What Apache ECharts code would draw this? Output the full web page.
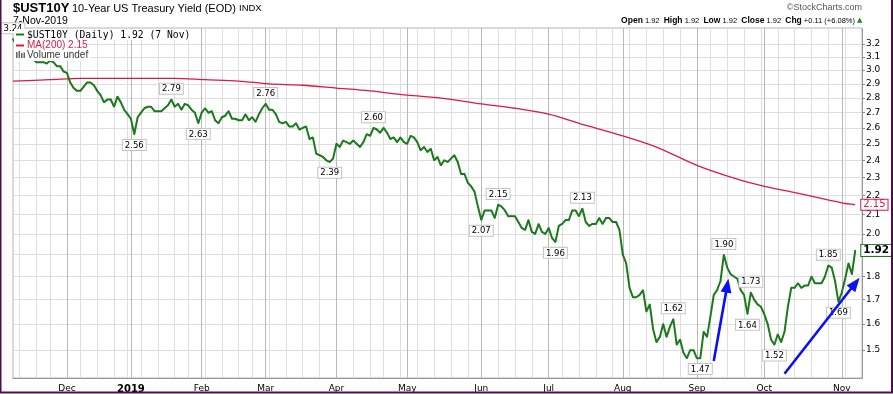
<!DOCTYPE html>
<html><head><meta charset="utf-8">
<script src="https://cdn.jsdelivr.net/npm/echarts@6/dist/echarts.min.js"></script>
<style>html,body{margin:0;padding:0;background:#fff}#c{width:893px;height:394px}</style>
</head><body><div id="c"></div>
<script>
// ---- categories (trading days) ----
const firstDay = '2018-11-08';
const lastDay = '2019-11-11';   // two blank days after the last close
const holidays = ['2018-11-22','2018-12-05','2018-12-25','2019-01-01','2019-01-21',
  '2019-02-18','2019-04-19','2019-05-27','2019-07-04','2019-09-02'];
const monthNames = ['Jan','Feb','Mar','Apr','May','Jun','Jul','Aug','Sep','Oct','Nov','Dec'];

// ---- daily closes of $UST10Y, one array per month ----
const y2018Nov = [3.24,3.19,3.19,3.14,3.12,3.11,3.08,3.06,3.06,3.06,3.05,3.07,3.06,3.03,3.03,2.99];
const y2018Dec = [2.98,2.91,2.87,2.85,2.85,2.88,2.91,2.91,2.89,2.85,2.82,2.77,2.79,2.79,2.74,2.81,2.77,2.72,2.69];
const y2019Jan = [2.66,2.56,2.67,2.70,2.73,2.74,2.74,2.71,2.71,2.71,2.73,2.75,2.79,2.74,2.76,2.72,2.76,2.75,2.72,2.70,2.63];
const y2019Feb = [2.70,2.73,2.70,2.71,2.65,2.63,2.67,2.68,2.71,2.66,2.66,2.65,2.65,2.69,2.65,2.67,2.64,2.69,2.73];
const y2019Mar = [2.76,2.72,2.72,2.69,2.64,2.63,2.64,2.61,2.61,2.63,2.59,2.60,2.61,2.53,2.54,2.44,2.43,2.42,2.40,2.39,2.41];
const y2019Apr = [2.50,2.48,2.52,2.51,2.50,2.52,2.50,2.48,2.51,2.56,2.55,2.60,2.59,2.57,2.60,2.57,2.53,2.54,2.51,2.54,2.51];
const y2019May = [2.50,2.55,2.54,2.51,2.46,2.48,2.45,2.47,2.40,2.42,2.37,2.40,2.39,2.41,2.43,2.39,2.32,2.32,2.27,2.25,2.22,2.14];
const y2019Jun = [2.07,2.12,2.12,2.12,2.08,2.15,2.14,2.12,2.09,2.09,2.09,2.06,2.03,2.02,2.07,2.01,2.00,2.05,2.01,2.00];
const y2019Jul = [2.03,1.98,1.96,2.04,2.05,2.07,2.07,2.12,2.12,2.09,2.13,2.06,2.04,2.05,2.05,2.08,2.05,2.08,2.08,2.06,2.06,2.02];
const y2019Aug = [1.90,1.86,1.75,1.71,1.71,1.72,1.74,1.65,1.68,1.58,1.53,1.55,1.60,1.55,1.59,1.62,1.52,1.54,1.49,1.47,1.50,1.50];
const y2019Sep = [1.47,1.47,1.57,1.55,1.63,1.72,1.74,1.78,1.90,1.84,1.81,1.80,1.79,1.74,1.72,1.64,1.73,1.70,1.68,1.67];
const y2019Oct = [1.64,1.60,1.54,1.52,1.56,1.53,1.57,1.67,1.75,1.75,1.77,1.75,1.76,1.76,1.80,1.77,1.77,1.77,1.80,1.85,1.84,1.78,1.69];
const y2019Nov = [1.73,1.79,1.86,1.81,1.92];

// ---- MA(200) ----
const maDates = ['2018-11-08','2018-11-26','2018-12-10','2018-12-24','2019-01-07','2019-01-22','2019-02-04',
  '2019-02-19','2019-03-04','2019-03-18','2019-04-01','2019-04-15','2019-05-01','2019-05-15','2019-06-03',
  '2019-06-17','2019-07-01','2019-07-15','2019-08-01','2019-08-15','2019-09-03','2019-09-19','2019-10-01',
  '2019-10-11','2019-11-01','2019-11-07'];
const maValues = [2.92,2.93,2.94,2.94,2.94,2.94,2.93,2.92,2.90,2.89,2.87,2.85,2.82,2.80,2.76,
  2.73,2.69,2.63,2.55,2.48,2.37,2.29,2.25,2.22,2.16,2.15];

// ---- axis ticks ----
const yTicks = [1.5,1.6,1.7,1.8,1.9,2.0,2.1,2.2,2.3,2.4,2.5,2.6,2.7,2.8,2.9,3.0,3.1,3.2];

// ---- callouts ----
const peakDates = ['2018-11-08','2019-01-18','2019-03-01','2019-04-16','2019-06-10','2019-07-16',
  '2019-08-22','2019-09-13','2019-09-25','2019-10-28'];
const troughDates = ['2019-01-03','2019-01-31','2019-03-28','2019-06-03','2019-07-03','2019-09-04',
  '2019-09-24','2019-10-04','2019-10-31'];

// ---- hand-drawn arrows [start, end] ----
const arrows = [
  [['2019-09-10', 1.46], ['2019-09-16', 1.76]],
  [['2019-10-09', 1.415], ['2019-11-07', 1.77]]
];

function ds(d){ return d.toISOString().slice(0,10); }
function tradingDays(){
  const out = [], hs = new Set(holidays);
  const d = new Date(firstDay + 'T00:00:00Z'), end = new Date(lastDay + 'T00:00:00Z');
  while (d <= end) {
    const w = d.getUTCDay(), s = ds(d);
    if (w !== 0 && w !== 6 && !hs.has(s)) out.push(s);
    d.setUTCDate(d.getUTCDate() + 1);
  }
  return out;
}
const dates = tradingDays();
const yields = [].concat(y2018Nov,y2018Dec,y2019Jan,y2019Feb,y2019Mar,y2019Apr,y2019May,
  y2019Jun,y2019Jul,y2019Aug,y2019Sep,y2019Oct,y2019Nov);

function dow(s){ return new Date(s + 'T00:00:00Z').getUTCDay(); }
function isMonthStart(i){ return i > 0 && dates[i].slice(0,7) !== dates[i-1].slice(0,7); }
function isWeekStart(i){
  if (i <= 0) return false;
  const diff = (new Date(dates[i]) - new Date(dates[i-1])) / 864e5;
  return dow(dates[i]) < dow(dates[i-1]) || diff >= 7;
}

const peakSet = new Set(peakDates), troughSet = new Set(troughDates);
const GREEN = '#1c7a1c', RED = '#d81b45';
const seriesData = yields.map((v, i) => {
  const d = dates[i];
  if (peakSet.has(d)) return {value: v, label: {show: true, position: 'top'}};
  if (troughSet.has(d)) return {value: v, label: {show: true, position: 'bottom'}};
  return v;
});
const maData = maDates.map((d, i) => [d, maValues[i]]);

const chart = echarts.init(document.getElementById('c'), null, {renderer: 'canvas'});
const AX = 'DejaVu Sans';
const LZ = 100;
chart.setOption({
  animation: false,
  backgroundColor: '#fff',
  grid: {left: 13, top: 28, width: 849, height: 353, show: true, borderColor: '#b4b4b4', borderWidth: 1},
  xAxis: [{
    type: 'category', data: dates, boundaryGap: false, position: 'bottom',
    axisLine: {show: true, lineStyle: {color: '#8c8c8c', type: 'dotted'}},
    axisTick: {show: false},
    axisLabel: {
      interval: (i) => isMonthStart(i), margin: 6, color: '#000', fontSize: 9, fontFamily: AX,
      formatter: (v) => { const m = +v.slice(5,7); return m === 1 ? '{y|' + v.slice(0,4) + '}' : monthNames[m-1]; },
      rich: {y: {fontWeight: 'bold', fontSize: 10, fontFamily: AX, color: '#000'}}
    },
    splitLine: {show: true, interval: (i) => isWeekStart(i), lineStyle: {color: '#dedede', width: 1}}
  }, {
    type: 'category', data: dates, boundaryGap: false, position: 'top',
    axisLine: {show: false}, axisTick: {show: false}, axisLabel: {show: false},
    splitLine: {show: true, interval: (i) => isMonthStart(i), lineStyle: {color: '#b8b8b8', width: 1}}
  }],
  yAxis: {
    type: 'log', logBase: 10, min: 1.40, max: 3.33, position: 'right',
    axisLine: {show: true, lineStyle: {color: '#8c8c8c', type: 'dotted'}},
    axisTick: {show: true, inside: false, length: 3, customValues: yTicks, lineStyle: {color: '#8c8c8c'}},
    axisLabel: {customValues: yTicks, formatter: (v) => (+v).toFixed(1), color: '#000', fontSize: 9,
      fontFamily: AX, margin: 4},
    splitLine: {show: true, lineStyle: {color: '#dedede', width: 1}},
    minorTick: {show: false}, minorSplitLine: {show: false}
  },
  series: [{
    name: 'MA(200)', type: 'line', data: maData, showSymbol: false, symbol: 'none', z: 2, smooth: 0.3,
    lineStyle: {color: RED, width: 1.3}, itemStyle: {color: RED},
    endLabel: {show: true, formatter: '2.15', color: RED, fontSize: 10, fontFamily: AX,
      backgroundColor: '#fff', borderColor: RED, borderWidth: 1, padding: [0, 2, 0, 2], distance: 6}
  }, {
    name: '$UST10Y', type: 'line', data: seriesData, z: 3,
    showSymbol: true, showAllSymbol: true, symbol: 'circle', symbolSize: 1.5,
    itemStyle: {color: GREEN}, lineStyle: {color: GREEN, width: 2},
    label: {show: false, formatter: (p) => (+p.value).toFixed(2), color: '#000', fontSize: 8.5,
      fontFamily: AX, backgroundColor: '#fff', borderColor: '#c4c4c4', borderWidth: 1,
      padding: [1, 2, 0, 2], distance: 5},
    endLabel: {show: true, formatter: '1.92', color: '#000', fontWeight: 'bold', fontSize: 10.5,
      fontFamily: AX, backgroundColor: '#fff', borderColor: GREEN, borderWidth: 1,
      padding: [0, 2, 0, 2], distance: 6},
    markLine: {
      silent: true, symbol: ['none', 'triangle'], symbolSize: [11, 14],
      label: {show: false},
      lineStyle: {color: '#0a10f0', width: 2.6, type: 'solid'},
      data: arrows.map(a => [{coord: a[0]}, {coord: a[1]}])
    }
  }],
  graphic: [
    {type: 'text', x: 13, y: 8, style: {text: '$UST10Y', font: 'bold 13px "Liberation Sans"', fill: '#000', verticalAlign: 'middle'}},
    {type: 'text', x: 72, y: 8.5, style: {text: '10-Year US Treasury Yield (EOD)', font: '11px "Liberation Sans"', fill: '#000', verticalAlign: 'middle'}},
    {type: 'text', x: 239, y: 8.5, style: {text: 'INDX', font: '9.5px "Liberation Sans"', fill: '#000', verticalAlign: 'middle'}},
    {type: 'text', x: 13, y: 21, style: {text: '7-Nov-2019', font: '10.5px "Liberation Sans"', fill: '#000', verticalAlign: 'middle'}},
    {type: 'text', x: 862, y: 8, style: {text: '\u00A9StockCharts.com', font: '9px "Liberation Sans"', fill: '#555', align: 'right', verticalAlign: 'middle'}},
    {type: 'text', x: 855, y: 20.5, style: {
      text: '{b|Open} {n|1.92}  {b|High} {n|1.92}  {b|Low} {n|1.92}  {b|Close} {n|1.92}  {b|Chg} {n|+0.11 (+6.08%)}',
      font: '7.5px "Liberation Sans"', fill: '#000', align: 'right', verticalAlign: 'middle',
      rich: {b: {fontWeight: 'bold', fontSize: 8.5, fontFamily: 'Liberation Sans', fill: '#000'},
             n: {fontSize: 7.5, fontFamily: 'Liberation Sans', fill: '#000'}}}},
    {type: 'text', x: 857, y: 20, style: {text: '\u25B2', font: '7px "DejaVu Sans"', fill: '#1c8c1c', verticalAlign: 'middle'}},
    // legend
    {type: 'rect', z: LZ, shape: {x: 14, y: 29, width: 180, height: 11}, style: {fill: '#fff'}},
    {type: 'rect', z: LZ, shape: {x: 14, y: 40, width: 72, height: 10}, style: {fill: '#fff'}},
    {type: 'rect', z: LZ, shape: {x: 14, y: 50, width: 76, height: 11}, style: {fill: '#fff'}},
    {type: 'rect', z: LZ + 1, shape: {x: 16, y: 33.5, width: 8, height: 2}, style: {fill: GREEN}},
    {type: 'text', z: LZ + 1, x: 27, y: 35, style: {text: '$UST10Y (Daily) 1.92 (7 Nov)', font: '9.7px "DejaVu Sans Mono"', fill: '#000', verticalAlign: 'middle'}},
    {type: 'rect', z: LZ + 1, shape: {x: 16, y: 44.5, width: 8, height: 2}, style: {fill: RED}},
    {type: 'text', z: LZ + 1, x: 27, y: 45.5, style: {text: 'MA(200) 2.15', font: '10px "Liberation Sans"', fill: RED, verticalAlign: 'middle'}},
    {type: 'rect', z: LZ + 1, shape: {x: 16, y: 52, width: 1.5, height: 6}, style: {fill: '#666'}},
    {type: 'rect', z: LZ + 1, shape: {x: 18.5, y: 51, width: 1.5, height: 7}, style: {fill: '#666'}},
    {type: 'rect', z: LZ + 1, shape: {x: 21, y: 53, width: 1.5, height: 5}, style: {fill: '#666'}},
    {type: 'rect', z: LZ + 1, shape: {x: 23.5, y: 52.5, width: 1.5, height: 5.5}, style: {fill: '#666'}},
    {type: 'text', z: LZ + 1, x: 27, y: 55.5, style: {text: 'Volume undef', font: '10px "Liberation Sans"', fill: '#333', verticalAlign: 'middle'}},
    {type: 'rect', z: 200, shape: {x: 0.5, y: -1, width: 891.5, height: 393.5}, style: {fill: 'none', stroke: '#4b104b', lineWidth: 2}}
  ]
});
</script></body></html>
